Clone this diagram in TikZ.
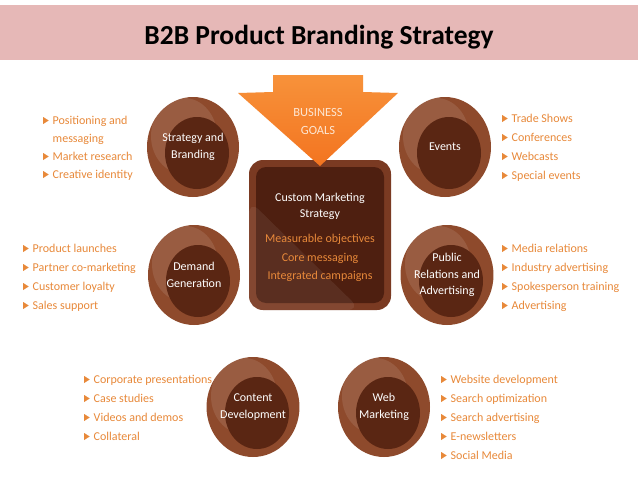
\documentclass[tikz,border=0pt]{standalone}
\usepackage{fontspec}
\setmainfont{Carlito}
\usetikzlibrary{shapes.geometric,calc}
\pgfdeclarelayer{background}
\pgfsetlayers{background,main}
\definecolor{pinkbar}{HTML}{E6B8B7}
\definecolor{orc}{HTML}{E8893A}
\definecolor{arrowc}{HTML}{F37420}
\definecolor{arrowtop}{HTML}{F7923A}
\definecolor{brownout}{HTML}{8E4A2C}
\definecolor{browninner}{HTML}{5A2613}
\definecolor{sqrim}{HTML}{7A3A22}
\definecolor{sqin}{HTML}{4E1F10}
\definecolor{connc}{HTML}{CACACA}
\definecolor{goalc}{HTML}{FDE6D2}
\newcommand\bultri{\tikz[baseline=0pt]\fill[orc] (0pt,0pt) -- (0pt,7pt) -- (5.5pt,3.5pt) -- cycle;\hspace{4pt}}
\newcommand\bulgap{\hphantom{\bultri}}
\begin{document}
\begin{tikzpicture}[x=1pt,y=-1pt,
  circ/.style={ellipse, minimum width=92pt, minimum height=100pt, inner sep=0pt,
    fill=brownout, text=white, align=center,
    font=\fontsize{12}{16.5}\selectfont,
    path picture={
      \fill[white,opacity=0.10] ($(path picture bounding box.center)+(-9pt,11pt)$) ellipse (33pt and 38pt);
      \fill[browninner] ($(path picture bounding box.center)+(4pt,-6pt)$) ellipse (32pt and 36pt);
    }},
  conn/.style={line width=20pt, draw=connc},
  blist/.style={anchor=base west, inner sep=0pt, align=left, text=orc,
    font=\fontsize{12}{19}\selectfont},
  ctext/.style={inner sep=0pt, align=center}
]
\useasboundingbox (0,0) rectangle (638,479);
\fill[white] (0,0) rectangle (638,479);
% title
\fill[pinkbar] (0,5) rectangle (638,60);
\node[inner sep=0pt, font=\fontsize{27.5}{30}\selectfont\bfseries] (title) at (319,37) {B2B Product Branding Strategy};

% central square
\node[rectangle, rounded corners=14pt, minimum width=142pt, minimum height=150pt, fill=sqrim,
  path picture={
    \fill[sqin, rounded corners=10pt] ($(path picture bounding box.north west)+(7pt,-7pt)$) rectangle ($(path picture bounding box.south east)+(-7pt,7pt)$);
    \fill[white,opacity=0.07] ($(path picture bounding box.south west)$) -- ($(path picture bounding box.south west)+(0pt,110pt)$) -- ($(path picture bounding box.south east)+(-30pt,0pt)$) -- cycle;
  }] (cms) at (320,235) {};
\node[ctext, font=\fontsize{12}{16}\selectfont, text=white] (cms-t) at (320,206) {Custom Marketing\\Strategy};
\node[ctext, font=\fontsize{12}{18.5}\selectfont, text=orc] (cms-o) at (320,258) {Measurable objectives\\Core messaging\\Integrated campaigns};

% business goals arrow
\shade[top color=arrowtop, bottom color=arrowc] (273,75) -- (363,75) -- (363,92) -- (398,93) -- (320,166) -- (238,93) -- (273,92) -- cycle;
\node[ctext, font=\fontsize{12.5}{18}\selectfont, text=goalc] (goals) at (318,121) {BUSINESS\\GOALS};

% circles
\node[circ] (sb) at (193,147) {Strategy and\\Branding};
\node[circ] (ev) at (445,147) {Events};
\node[circ] (dg) at (194,275) {Demand\\Generation};
\node[circ] (pr) at (447,275) {Public\\Relations and\\Advertising};
\node[circ] (cd) at (253,407) {Content\\Development};
\node[circ] (wm) at (384,407) {Web\\Marketing};

% connectors
\begin{pgfonlayer}{background}
\draw[conn] (sb.center) -- (cms.center);
\draw[conn] (ev.center) -- (cms.center);
\draw[conn] (dg.center) -- (cms.center);
\draw[conn] (pr.center) -- (cms.center);
\draw[conn] (cd.center) -- (cms.center);
\draw[conn] (wm.center) -- (cms.center);
\end{pgfonlayer}

% lists (anchor is the baseline of the last line)
\node[blist, font=\fontsize{12}{18}\selectfont] (l-sb) at (43,178) {\bultri Positioning and\\\bulgap messaging\\\bultri Market research\\\bultri Creative identity};
\node[blist] (l-ev) at (502,179) {\bultri Trade Shows\\\bultri Conferences\\\bultri Webcasts\\\bultri Special events};
\node[blist] (l-dg) at (23,309) {\bultri Product launches\\\bultri Partner co-marketing\\\bultri Customer loyalty\\\bultri Sales support};
\node[blist] (l-pr) at (502,309) {\bultri Media relations\\\bultri Industry advertising\\\bultri Spokesperson training\\\bultri Advertising};
\node[blist] (l-cd) at (84,440) {\bultri Corporate presentations\\\bultri Case studies\\\bultri Videos and demos\\\bultri Collateral};
\node[blist] (l-wm) at (441,459) {\bultri Website development\\\bultri Search optimization\\\bultri Search advertising\\\bultri E-newsletters\\\bultri Social Media};
\end{tikzpicture}
\end{document}
